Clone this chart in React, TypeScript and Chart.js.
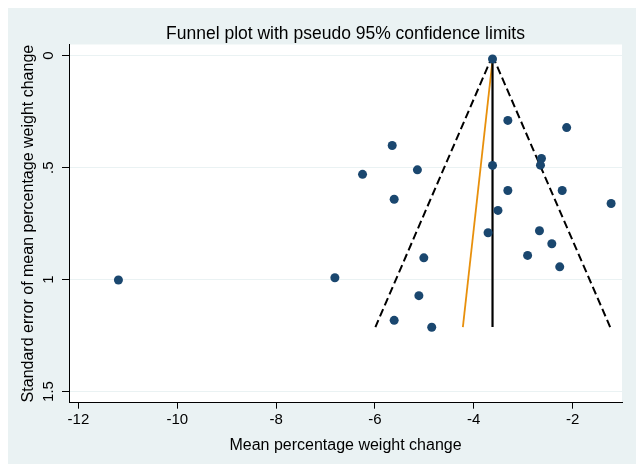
import React, { useEffect, useRef } from "react";
import { Chart, registerables } from "chart.js";

Chart.register(...registerables);

// Study estimates (mean percentage weight change) and their standard errors
const effects = [
  -3.62, -3.31, -2.12, -5.65, -2.63, -2.65, -3.62, -6.25, -5.14, -5.61, -3.31, -2.21, -1.22,
  -3.51, -3.71, -2.67, -2.42, -5.01, -2.91, -2.26, -6.81, -11.19, -5.11, -5.61, -4.85,
];
const standardErrors = [
  0.015, 0.289, 0.321, 0.401, 0.459, 0.489, 0.49, 0.53, 0.51, 0.641, 0.602, 0.602, 0.66,
  0.691, 0.791, 0.782, 0.84, 0.903, 0.892, 0.943, 0.992, 1.002, 1.072, 1.182, 1.213,
];

// Line endpoints (standard error at top and bottom of the funnel)
const lineSE = [0, 1.212];
const pooledX = [-3.62, -3.62];
const lowerLimitX = [-3.62, -5.99];
const upperLimitX = [-3.62, -1.24];
const regressionX = [-3.61, -4.22];

const xTicks = [-12, -10, -8, -6, -4, -2];
const yTicks = [0, 0.5, 1, 1.5];
const yTickLabels = ["0", ".5", "1", "1.5"];

const titleText = "Funnel plot with pseudo 95% confidence limits";
const xTitle = "Mean percentage weight change";
const yTitle = "Standard error of mean percentage weight change";

const BG = "#eaf2f3";
const NAVY = "#1a476f";
const ORANGE = "#e8900c";
const FONT = "'Liberation Sans', Arial, Helvetica, sans-serif";

export default function App() {
  const ref = useRef<HTMLCanvasElement>(null);

  useEffect(() => {
    const canvas = ref.current;
    if (!canvas) return;

    const bgPlugin = {
      id: "stataBackground",
      beforeDraw(chart: any) {
        const { ctx, chartArea } = chart;
        ctx.save();
        ctx.fillStyle = BG;
        ctx.fillRect(0, 0, chart.width, chart.height);
        ctx.fillStyle = "#ffffff";
        ctx.fillRect(
          chartArea.left,
          chartArea.top,
          chartArea.right - chartArea.left,
          chartArea.bottom - chartArea.top
        );
        ctx.restore();
      },
    };

    const points = effects.map((x, i) => ({ x, y: standardErrors[i] }));
    const line = (xs: number[]) => xs.map((x, i) => ({ x, y: lineSE[i] }));

    const chart = new Chart(canvas, {
      type: "scatter",
      data: {
        datasets: [
          {
            data: points,
            pointRadius: 4.5,
            pointBackgroundColor: NAVY,
            pointBorderColor: NAVY,
            pointBorderWidth: 0,
            showLine: false,
          },
          {
            data: line(pooledX),
            showLine: true,
            borderColor: "#000000",
            borderWidth: 2.2,
            pointRadius: 0,
          },
          {
            data: line(lowerLimitX),
            showLine: true,
            borderColor: "#000000",
            borderWidth: 2,
            borderDash: [8, 4],
            pointRadius: 0,
          },
          {
            data: line(upperLimitX),
            showLine: true,
            borderColor: "#000000",
            borderWidth: 2,
            borderDash: [8, 4],
            pointRadius: 0,
          },
          {
            data: line(regressionX),
            showLine: true,
            borderColor: ORANGE,
            borderWidth: 1.8,
            pointRadius: 0,
          },
        ],
      },
      options: {
        responsive: false,
        animation: false,
        devicePixelRatio: 1,
        layout: { padding: { left: 0, right: 14, top: 0, bottom: 0 } },
        plugins: {
          legend: { display: false },
          tooltip: { enabled: false },
          title: {
            display: true,
            text: titleText,
            fullSize: false,
            color: "#000000",
            font: { family: FONT, size: 17.5, weight: "normal" },
            padding: { top: 15.5, bottom: 0 },
          },
        },
        scales: {
          x: {
            type: "linear",
            min: -12.19,
            max: -1.0,
            afterBuildTicks: (s: any) => {
              s.ticks = xTicks.map((v) => ({ value: v }));
            },
            afterFit: (s: any) => {
              s.height = 61.3;
            },
            ticks: {
              color: "#000000",
              font: { family: FONT, size: 15 },
              padding: 2,
              maxRotation: 0,
              minRotation: 0,
              autoSkip: false,
              callback: (v: any) => String(v),
            },
            grid: {
              drawOnChartArea: false,
              drawTicks: true,
              tickLength: 6,
              tickColor: "#000000",
              tickWidth: 1,
            },
            border: { display: true, color: "#000000", width: 1 },
            title: {
              display: true,
              text: xTitle,
              color: "#000000",
              font: { family: FONT, size: 16 },
              padding: { top: 0, bottom: 9 },
            },
          },
          y: {
            type: "linear",
            reverse: true,
            min: -0.05,
            max: 1.55,
            afterBuildTicks: (s: any) => {
              s.ticks = yTicks.map((v) => ({ value: v }));
            },
            afterFit: (s: any) => {
              s.width = 61;
            },
            ticks: {
              color: "#000000",
              font: { family: FONT, size: 15 },
              padding: 3,
              minRotation: 90,
              maxRotation: 90,
              crossAlign: "center",
              autoSkip: false,
              callback: (v: any) => {
                const i = yTicks.indexOf(Number(v));
                return i >= 0 ? yTickLabels[i] : "";
              },
            },
            grid: {
              drawOnChartArea: true,
              color: BG,
              lineWidth: 1,
              drawTicks: true,
              tickLength: 7,
              tickColor: "#000000",
              tickWidth: 1,
            },
            border: { display: true, color: "#000000", width: 1 },
            title: {
              display: true,
              text: yTitle,
              color: "#000000",
              font: { family: FONT, size: 16 },
              padding: { top: 10.5, bottom: 0 },
            },
          },
        },
      },
      plugins: [bgPlugin],
    });

    return () => chart.destroy();
  }, []);

  return (
    <canvas
      ref={ref}
      width={628}
      height={456}
      style={{ display: "block", width: 628, height: 456 }}
    />
  );
}
